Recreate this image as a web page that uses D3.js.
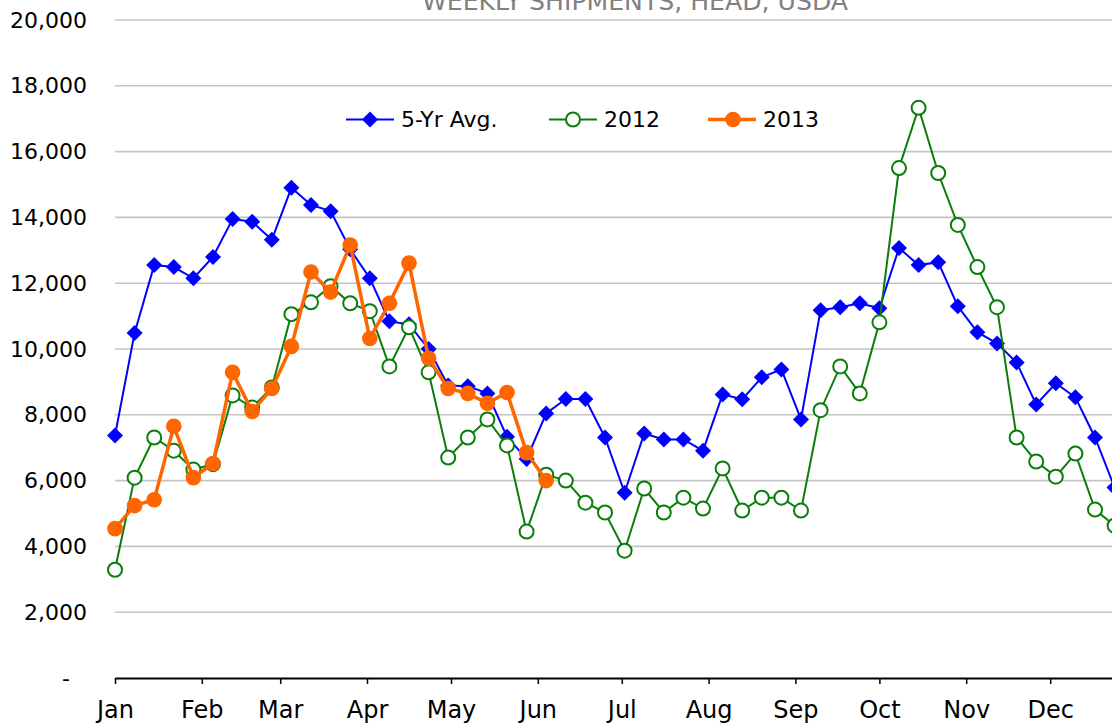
<!DOCTYPE html>
<html>
<head>
<meta charset="utf-8">
<script src="https://cdn.jsdelivr.net/npm/d3@7"></script>
<style>
  body { margin: 0; background: #fff; }
  svg { display: block; font-family: "DejaVu Sans", sans-serif; }
</style>
</head>
<body>
<svg id="chart"></svg>
<script>
const TITLE = "WEEKLY SHIPMENTS, HEAD, USDA";
const SERIES_NAMES = ["5-Yr Avg.", "2012", "2013"];

// weekly values, head
const avg5 = [7370, 10490, 12550, 12490, 12150, 12800, 13950, 13870, 13320, 14900, 14380, 14190, 13030,
  12150, 10840, 10750, 10000, 8890, 8870, 8650, 7330, 6660, 8040, 8480, 8480, 7310, 5630, 7430, 7250,
  7250, 6910, 8620, 8470, 9140, 9380, 7860, 11180, 11270, 11390, 11240, 13070, 12550, 12640, 11300,
  10510, 10170, 9590, 8315, 8960, 8530, 7310, 5790];
const y2012 = [3290, 6090, 7310, 6910, 6335, 6500, 8590, 8220, 8830, 11060, 11420, 11910, 11390, 11150,
  9470, 10660, 9290, 6700, 7310, 7860, 7070, 4450, 6180, 6000, 5330, 5030, 3870, 5760, 5030, 5480, 5150,
  6370, 5090, 5480, 5480, 5090, 8140, 9470, 8650, 10810, 15500, 17330, 15350, 13770, 12490, 11270, 7310,
  6580, 6120, 6820, 5120, 4630];
const y2013 = [4540, 5240, 5420, 7650, 6090, 6520, 9290, 8100, 8800, 10080, 12340, 11730, 13160, 10320,
  11390, 12610, 9720, 8800, 8650, 8350, 8680, 6850, 6000];

const yTicks = [0, 2000, 4000, 6000, 8000, 10000, 12000, 14000, 16000, 18000, 20000];

const W = 1112, H = 723;
const start = new Date(Date.UTC(2013, 0, 1));
const end = new Date(Date.UTC(2014, 0, 1));
const weeks = d3.utcTuesday.range(start, end).slice(0, 52);
const months = d3.utcMonth.range(start, end);

const svg = d3.select("#chart").attr("width", W).attr("height", H);

const x = d3.scaleUtc().domain([start, end]).range([115, 115 + 365 * 2.8]);
const y = d3.scaleLinear().domain([0, 20000]).range([678, 20]);

// title (cropped at top like the source)
svg.append("text")
  .attr("x", 635).attr("y", 10)
  .attr("text-anchor", "middle")
  .attr("font-size", 24)
  .attr("fill", "#808080")
  .attr("textLength", 426)
  .attr("lengthAdjust", "spacingAndGlyphs")
  .text(TITLE);

// gridlines
svg.append("g").selectAll("line")
  .data(yTicks.filter(d => d > 0))
  .join("line")
    .attr("x1", 115).attr("x2", W)
    .attr("y1", d => y(d)).attr("y2", d => y(d))
    .attr("stroke", "#c4c4c4").attr("stroke-width", 1.6);

// y labels
const yAxisG = svg.append("g")
  .attr("transform", "translate(87,0)")
  .call(d3.axisLeft(y).tickValues(yTicks).tickSize(0).tickPadding(0)
    .tickFormat(d => d === 0 ? "-" : d3.format(",")(d)))
  .call(g => g.select(".domain").remove());
yAxisG.selectAll(".tick text")
  .attr("font-family", "DejaVu Sans")
  .attr("font-size", 22)
  .attr("fill", "#000")
  .attr("dx", d => d === 0 ? -17 : 0);

// x axis (month ticks only through Dec)
const xAxisG = svg.append("g")
  .attr("transform", `translate(0,${y(0)})`)
  .call(d3.axisBottom(x).tickValues(months).tickFormat(d3.utcFormat("%b"))
    .tickSize(6).tickSizeOuter(0).tickPadding(17));
xAxisG.select(".domain").attr("stroke", "#000").attr("stroke-width", 2.2);
xAxisG.selectAll(".tick line").attr("stroke", "#000").attr("stroke-width", 1.5);
xAxisG.selectAll(".tick text")
  .attr("font-family", "DejaVu Sans")
  .attr("font-size", 24)
  .attr("fill", "#000");

const line = d3.line().x((d, i) => x(weeks[i])).y(d => y(d));
const diamond = "M0,-8L8,0L0,8L-8,0Z";

// 5-yr avg
svg.append("path").datum(avg5)
  .attr("d", line).attr("fill", "none")
  .attr("stroke", "#0000ff").attr("stroke-width", 2);
svg.append("g").selectAll("path")
  .data(avg5)
  .join("path")
    .attr("d", diamond)
    .attr("transform", (d, i) => `translate(${x(weeks[i])},${y(d)})`)
    .attr("fill", "#0000ff");

// 2012
svg.append("path").datum(y2012)
  .attr("d", line).attr("fill", "none")
  .attr("stroke", "#0a7d0a").attr("stroke-width", 2);
svg.append("g").selectAll("circle")
  .data(y2012)
  .join("circle")
    .attr("cx", (d, i) => x(weeks[i]))
    .attr("cy", d => y(d))
    .attr("r", 7)
    .attr("fill", "#fff")
    .attr("stroke", "#0a7d0a").attr("stroke-width", 2);

// 2013
svg.append("path").datum(y2013)
  .attr("d", line).attr("fill", "none")
  .attr("stroke", "#ff6600").attr("stroke-width", 3.5);
svg.append("g").selectAll("circle")
  .data(y2013)
  .join("circle")
    .attr("cx", (d, i) => x(weeks[i]))
    .attr("cy", d => y(d))
    .attr("r", 7.8)
    .attr("fill", "#ff6600");

// legend
const legend = svg.append("g").attr("transform", "translate(0,119.5)");
const legItems = [
  { name: SERIES_NAMES[0], x0: 346, color: "#0000ff", sw: 2, mark: "diamond" },
  { name: SERIES_NAMES[1], x0: 549, color: "#0a7d0a", sw: 2, mark: "open" },
  { name: SERIES_NAMES[2], x0: 708, color: "#ff6600", sw: 3.5, mark: "filled" },
];
legItems.forEach(it => {
  const g = legend.append("g").attr("transform", `translate(${it.x0},0)`);
  g.append("line").attr("x1", 0).attr("x2", 48)
    .attr("stroke", it.color).attr("stroke-width", it.sw);
  if (it.mark === "diamond") {
    g.append("path").attr("d", diamond).attr("transform", "translate(24,0)").attr("fill", it.color);
  } else if (it.mark === "open") {
    g.append("circle").attr("cx", 24).attr("r", 7).attr("fill", "#fff")
      .attr("stroke", it.color).attr("stroke-width", 2);
  } else {
    g.append("circle").attr("cx", 25).attr("r", 7.8).attr("fill", it.color);
  }
  g.append("text").attr("x", 55).attr("dy", "0.36em")
    .attr("font-size", 22).attr("fill", "#000")
    .text(it.name);
});
</script>
</body>
</html>
